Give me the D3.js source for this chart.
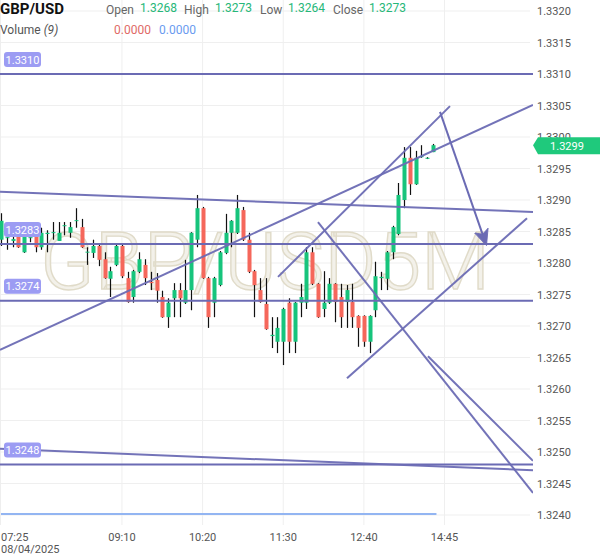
<!DOCTYPE html>
<html>
<head>
<meta charset="utf-8">
<script src="https://cdn.jsdelivr.net/npm/d3@7"></script>
<style>
body { margin: 0; background: #fff; }
svg { display: block; font-family: Roboto, "Noto Sans", sans-serif; }
</style>
</head>
<body>
<svg id="chart" width="600" height="558"></svg>
<script>
// 5 minute candles, GBP/USD 08/04/2025
opens  = [1.32837,1.32840,1.32835,1.32843,1.32817,1.32840,1.32844,1.32825,1.32846,1.32848,
          1.32835,1.32859,1.32848,1.32867,1.32857,1.32817,1.32816,1.32827,1.32806,1.32775,
          1.32797,1.32827,1.32776,1.32746,1.32786,1.32797,1.32770,1.32773,1.32746,1.32714,
          1.32744,1.32757,1.32737,1.32757,1.32837,1.32887,1.32776,1.32737,1.32765,1.32816,
          1.32848,1.32848,1.32884,1.32837,1.32787,1.32757,1.32735,1.32684,1.32675,1.32675,
          1.32737,1.32675,1.32737,1.32737,1.32817,1.32767,1.32727,1.32737,1.32767,1.32746,
          1.32738,1.32738,1.32716,1.32716,1.32675,1.32725,1.32776,1.32775,1.32817,1.32846,
          1.32900,1.32967,1.32925,1.32968,1.32967,1.32976];
highs  = [1.32879,1.32865,1.32848,1.32854,1.32856,1.32844,1.32856,1.32856,1.32852,1.32865,
          1.32865,1.32865,1.32865,1.32887,1.32870,1.32825,1.32837,1.32830,1.32817,1.32794,
          1.32830,1.32830,1.32786,1.32789,1.32817,1.32806,1.32786,1.32784,1.32756,1.32744,
          1.32768,1.32768,1.32805,1.32849,1.32908,1.32889,1.32778,1.32778,1.32819,1.32878,
          1.32868,1.32908,1.32889,1.32848,1.32789,1.32776,1.32776,1.32714,1.32714,1.32729,
          1.32744,1.32738,1.32767,1.32825,1.32825,1.32768,1.32787,1.32776,1.32768,1.32767,
          1.32765,1.32767,1.32717,1.32717,1.32717,1.32802,1.32786,1.32819,1.32859,1.32927,
          1.32984,1.32984,1.32978,1.32987,1.32968,1.32989];
lows   = [1.32827,1.32821,1.32825,1.32824,1.32816,1.32833,1.32817,1.32821,1.32817,1.32837,
          1.32835,1.32844,1.32840,1.32856,1.32824,1.32797,1.32808,1.32795,1.32775,1.32746,
          1.32795,1.32776,1.32737,1.32737,1.32784,1.32765,1.32757,1.32737,1.32713,1.32697,
          1.32714,1.32714,1.32735,1.32725,1.32825,1.32775,1.32697,1.32714,1.32763,1.32814,
          1.32825,1.32846,1.32835,1.32784,1.32714,1.32737,1.32694,1.32665,1.32657,1.32638,
          1.32657,1.32657,1.32714,1.32727,1.32765,1.32713,1.32714,1.32735,1.32706,1.32697,
          1.32697,1.32697,1.32667,1.32667,1.32657,1.32714,1.32757,1.32757,1.32806,1.32844,
          1.32887,1.32908,1.32924,1.32967,1.32965,1.32976];
closes = [1.32867,1.32841,1.32838,1.32825,1.32846,1.32841,1.32825,1.32848,1.32848,1.32849,
          1.32848,1.32860,1.32857,1.32868,1.32825,1.32818,1.32827,1.32805,1.32776,1.32787,
          1.32827,1.32779,1.32738,1.32787,1.32806,1.32776,1.32768,1.32756,1.32714,1.32737,
          1.32757,1.32744,1.32757,1.32848,1.32887,1.32776,1.32714,1.32776,1.32817,1.32848,
          1.32867,1.32887,1.32837,1.32786,1.32765,1.32738,1.32695,1.32686,1.32697,1.32727,
          1.32675,1.32737,1.32746,1.32817,1.32767,1.32714,1.32737,1.32767,1.32738,1.32714,
          1.32757,1.32714,1.32697,1.32675,1.32716,1.32779,1.32778,1.32817,1.32857,1.32908,
          1.32967,1.32925,1.32967,1.32970,1.32967,1.32987];

timeTickIdx = [0, 21, 35, 49, 63, 77];
timeTickLabels = ["07:25", "09:10", "10:20", "11:30", "12:40", "14:45"];
dateLabel = "08/04/2025";
priceTicks = [1.3240,1.3245,1.3250,1.3255,1.3260,1.3265,1.3270,1.3275,1.3280,
              1.3285,1.3290,1.3295,1.3300,1.3305,1.3310,1.3315,1.3320];

levels = [1.3310, 1.3283, 1.3274, 1.3248];
// drawn trend lines: [index0, price0, index1, price1]
trendLines = [
    [-0.17, 1.32913, 92.36, 1.32881],
    [-0.17, 1.32662, 92.36, 1.33051],
    [48.09, 1.32778, 77.95, 1.33049],
    [55.03, 1.32865, 92.36, 1.32435],
    [60.07, 1.32617, 91.32, 1.32871],
    [74.13, 1.32652, 92.36, 1.32486],
    [-0.17, 1.32505, 92.36, 1.32471]
];
arrowLine = [76.22, 1.33040, 84.2, 1.32830];
volumeLine = [[0, 0], [75, 0]];

ohlcLabels = ["Open", "High", "Low", "Close"];
ohlcValues = ["1.3268", "1.3273", "1.3264", "1.3273"];

lineColor = "#6b6bb4";
upColor = "#17c47c";
downColor = "#f5675b";

svg = d3.select("#chart");
plotR = 533;
plotB = 525;

x = d3.scaleLinear().domain([0, 75]).range([1, 433]);
y = d3.scaleLinear().domain([1.3240, 1.3320]).range([515, 11]);
yVol = d3.scaleLinear().domain([0, 1]).range([514, 470]);

svg.append("rect").attr("width", 600).attr("height", 558).attr("fill", "#fff");

svg.append("clipPath").attr("id", "plotClip")
    .append("rect").attr("x", 0).attr("y", 0).attr("width", plotR).attr("height", plotB);

// grid
grid = svg.append("g");
grid.selectAll(".hgrid")
    .data(priceTicks)
    .join("line")
    .attr("x1", 0).attr("x2", plotR - 3)
    .attr("y1", d => y(d)).attr("y2", d => y(d))
    .attr("stroke", "#efefef").attr("stroke-width", 1);
grid.selectAll(".vgrid")
    .data(timeTickIdx.slice(1))
    .join("line")
    .attr("x1", d => x(d)).attr("x2", d => x(d))
    .attr("y1", 0).attr("y2", plotB)
    .attr("stroke", "#efefef").attr("stroke-width", 1);
grid.append("line")
    .attr("x1", 0.5).attr("x2", 0.5).attr("y1", 0).attr("y2", plotB)
    .attr("stroke", "#eeeeee");

// watermark
svg.append("text")
    .text("GBP/USD5M")
    .attr("x", 40).attr("y", 289)
    .attr("textLength", 450)
    .attr("lengthAdjust", "spacingAndGlyphs")
    .attr("font-size", 80)
    .attr("font-weight", 300)
    .attr("fill", "#f3f1ea")
    .attr("stroke", "#e0dbc9")
    .attr("stroke-width", 1.4);

// volume line
svg.append("path")
    .datum(volumeLine)
    .attr("d", d3.line().x(d => x(d[0])).y(d => yVol(d[1])))
    .attr("stroke", "#93b5f2").attr("stroke-width", 2).attr("fill", "none")
    .attr("transform", "scale(1.008,1)");

// candles
candles = d3.range(opens.length).map(i => ({i: i, o: opens[i], h: highs[i], l: lows[i], c: closes[i]}));
cg = svg.append("g");
cg.selectAll(".wick")
    .data(candles)
    .join("line")
    .attr("x1", d => Math.round(x(d.i)) + 0.5).attr("x2", d => Math.round(x(d.i)) + 0.5)
    .attr("y1", d => y(d.h)).attr("y2", d => y(d.l))
    .attr("stroke", "#111").attr("stroke-width", 1.2);
cg.selectAll(".body")
    .data(candles)
    .join("rect")
    .attr("x", d => Math.round(x(d.i)) - 1.5)
    .attr("width", 4)
    .attr("y", d => y(Math.max(d.o, d.c)))
    .attr("height", d => Math.max(1, Math.abs(y(d.o) - y(d.c))))
    .attr("fill", d => d.c >= d.o ? upColor : downColor);

// drawings
dg = svg.append("g").attr("clip-path", "url(#plotClip)");
dg.selectAll(".level")
    .data(levels)
    .join("line")
    .attr("x1", 0).attr("x2", plotR)
    .attr("y1", d => y(d)).attr("y2", d => y(d))
    .attr("stroke", lineColor).attr("stroke-width", 2);
dg.selectAll(".trend")
    .data(trendLines)
    .join("line")
    .attr("x1", d => x(d[0])).attr("y1", d => y(d[1]))
    .attr("x2", d => x(d[2])).attr("y2", d => y(d[3]))
    .attr("stroke", lineColor).attr("stroke-width", 2).attr("stroke-opacity", 0.95);

svg.append("defs").append("marker")
    .attr("id", "arrowHead")
    .attr("viewBox", "0 0 10 10")
    .attr("refX", 9).attr("refY", 5)
    .attr("markerWidth", 8).attr("markerHeight", 8)
    .attr("orient", "auto")
    .append("path")
    .attr("d", "M0,0.5 L10,5 L0,9.5 L2.5,5 Z")
    .attr("fill", lineColor).attr("stroke", lineColor).attr("stroke-width", 0.5);
dg.append("line")
    .attr("x1", x(arrowLine[0])).attr("y1", y(arrowLine[1]))
    .attr("x2", x(arrowLine[2])).attr("y2", y(arrowLine[3]))
    .attr("stroke", lineColor).attr("stroke-width", 2)
    .attr("marker-end", "url(#arrowHead)");

// level pills
pills = svg.selectAll(".pill")
    .data(levels)
    .join("g")
    .attr("transform", d => `translate(4, ${y(d) - 22})`);
pills.append("rect")
    .attr("width", 37).attr("height", 15).attr("rx", 3)
    .attr("fill", "#9c9cf3");
pills.append("text")
    .text(d => d.toFixed(4))
    .attr("x", 18.5).attr("y", 11.5)
    .attr("text-anchor", "middle")
    .attr("font-size", 11)
    .attr("fill", "#fff");

// right axis
svg.selectAll(".ptick")
    .data(priceTicks)
    .join("text")
    .text(d => d.toFixed(4))
    .attr("x", 537).attr("y", d => y(d) + 4)
    .attr("font-size", 11)
    .attr("fill", "#555");

// last price
lastY = y(closes[closes.length - 1]);
svg.append("path")
    .attr("d", `M533,${lastY} L538,${lastY - 8} L600,${lastY - 8} L600,${lastY + 9} L538,${lastY + 9} Z`)
    .attr("fill", "#1fc97c");
svg.append("text")
    .text(closes[closes.length - 1].toFixed(4))
    .attr("x", 567).attr("y", lastY + 4.5)
    .attr("text-anchor", "middle")
    .attr("font-size", 11)
    .attr("fill", "#fff");

// bottom axis
svg.selectAll(".ttick")
    .data(timeTickIdx)
    .join("text")
    .text((d, i) => timeTickLabels[i])
    .attr("x", d => d === 0 ? 1 : x(d))
    .attr("y", 541)
    .attr("text-anchor", d => d === 0 ? "start" : "middle")
    .attr("font-size", 11)
    .attr("fill", "#555");
svg.append("text")
    .text(dateLabel)
    .attr("x", 1).attr("y", 553)
    .attr("font-size", 11)
    .attr("fill", "#555");

// header
header = svg.append("g");
header.append("text")
    .text("GBP/USD")
    .attr("x", 0).attr("y", 14)
    .attr("font-size", 15).attr("font-weight", 700)
    .attr("fill", "#111");
hx = [106, 184, 260, 333];
vx = [140, 215, 288, 369];
header.selectAll(".hl")
    .data(ohlcLabels)
    .join("text")
    .text(d => d)
    .attr("x", (d, i) => hx[i]).attr("y", 14)
    .attr("font-size", 12).attr("fill", "#666");
header.selectAll(".hv")
    .data(ohlcValues)
    .join("text")
    .text(d => d)
    .attr("x", (d, i) => vx[i]).attr("y", 12)
    .attr("font-size", 12).attr("fill", "#26b779");
vol = header.append("text")
    .attr("x", 0).attr("y", 34)
    .attr("font-size", 12).attr("fill", "#555");
vol.append("tspan").text("Volume ");
vol.append("tspan").text("(9)").attr("font-style", "italic");
header.append("text")
    .text("0.0000")
    .attr("x", 114).attr("y", 34)
    .attr("font-size", 12).attr("fill", "#e06a66");
header.append("text")
    .text("0.0000")
    .attr("x", 159).attr("y", 34)
    .attr("font-size", 12).attr("fill", "#6a9bf0");
</script>
</body>
</html>
